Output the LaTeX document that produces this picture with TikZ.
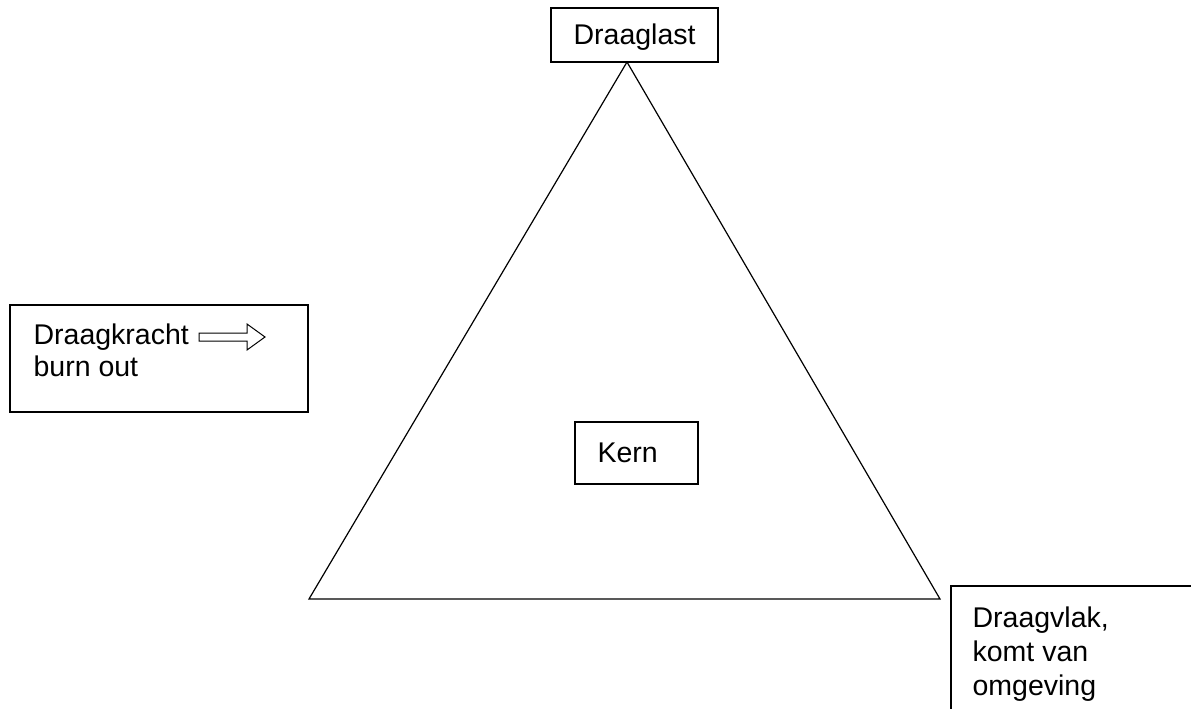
\documentclass[tikz,border=0pt]{standalone}
\usepackage{fontspec}
\setmainfont{Liberation Sans}
\begin{document}
\begin{tikzpicture}[x=1pt,y=-1pt,line width=1.2pt,line join=miter,
  box/.style={draw,rectangle,inner sep=0pt},
  lbl/.style={anchor=base west,inner sep=0pt,font=\fontsize{28.5}{33}\selectfont}]
\useasboundingbox (0,0) rectangle (1191,709);
\clip (0,0) rectangle (1191,709);
\fill[white] (0,0) rectangle (1191,709);

% frames
\node[box,minimum width=167pt,minimum height=54pt] (lastbox) at (634.5,35) {};
\node[box,minimum width=298pt,minimum height=107pt] (krachtbox) at (159,358.5) {};
\node[box,minimum width=123pt,minimum height=62pt] (kernbox) at (636.5,453) {};
\node[box,minimum width=279pt,minimum height=173pt] (vlakbox) at (1090.5,672.5) {};

% triangle
\coordinate (apex) at (627,62);
\coordinate (bl) at (309,599);
\coordinate (br) at (940,599);
\draw (apex) -- (bl) -- (br) -- cycle;

% labels
\node[lbl] (last) at (573,45) {Draaglast};
\node[lbl] (kracht) at (33,344) {Draagkracht};
\node[lbl] (burn) at (33,376) {burn out};
\node[lbl] (kern) at (597,462) {Kern};
\node[lbl] (vlak1) at (972,627) {Draagvlak,};
\node[lbl] (vlak2) at (972,661) {komt van};
\node[lbl] (vlak3) at (972,695) {omgeving};

% outlined block arrow
\draw[line width=1pt] (199,333) -- (247,333) -- (247,324) -- (265,337)
  -- (247,350) -- (247,341) -- (199,341) -- cycle;
\end{tikzpicture}
\end{document}
